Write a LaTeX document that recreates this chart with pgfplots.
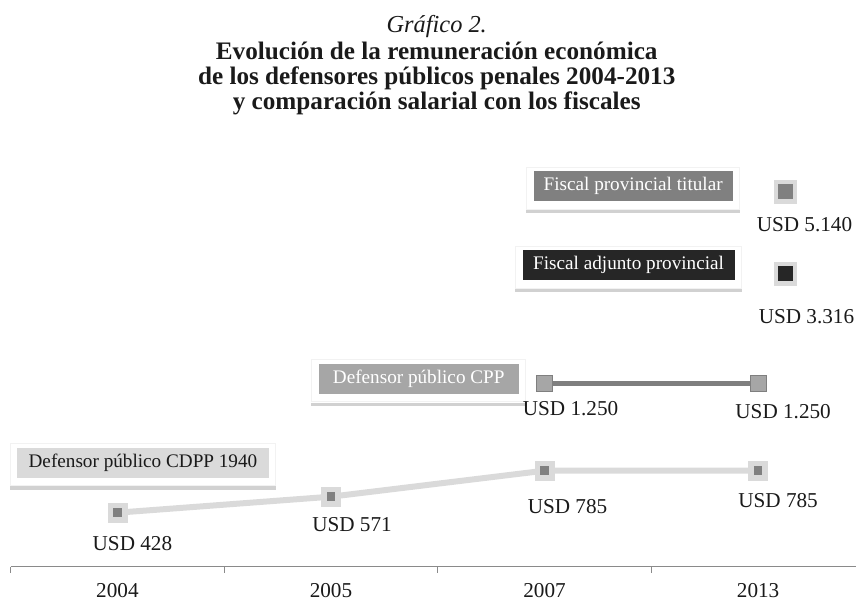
\documentclass[border=0pt]{standalone}
\usepackage{pgfplots}
\usepackage{pgfplotstable}
\pgfplotsset{compat=1.18}
\usepackage{fontspec}
\setmainfont{Liberation Serif}

\definecolor{txt}{HTML}{1A1A1A}
\definecolor{axisgray}{HTML}{8A8A8A}
\definecolor{cdppline}{HTML}{DADADA}
\definecolor{cdppin}{HTML}{808080}
\definecolor{cppfill}{HTML}{A6A6A6}
\definecolor{cppline}{HTML}{7F7F7F}
\definecolor{titular}{HTML}{808080}
\definecolor{adjunto}{HTML}{262626}

% piecewise scale of the original chart (value -> height above the axis)
\newcommand{\ymap}[1]{%
  \begingroup
  \pgfkeys{/pgf/fpu=false}%
  \pgfmathparse{#1<=428 ? #1/428*54 :
    (#1<=571 ? 54+(#1-428)/143*16 :
    (#1<=785 ? 70+(#1-571)/214*26 :
    (#1<=1250 ? 96+(#1-785)/465*87 :
    (#1<=3316 ? 183+(#1-1250)/2066*110 :
    293+(#1-3316)/1824*82))))}%
  \global\let\ymapresult\pgfmathresult
  \endgroup
  \let\pgfmathresult\ymapresult}

\newcommand{\lblfont}{\fontsize{10.6}{12}\selectfont}
\newcommand{\boxfont}{\fontsize{9.6}{11}\selectfont}
\newcommand{\titfont}{\fontsize{12.6}{13}\selectfont}

% label box with white frame and shadow: position, width, fill, text colour, text
\newcommand{\lbox}[5]{%
  \node[fill=white, draw=black!5, line width=0.4pt, inner sep=0pt,
        minimum width=#2+7pt, minimum height=21pt] (F) at ([yshift=-1pt]#1) {};
  \fill[black!18] ([yshift=-0.2pt]F.south west) rectangle ([yshift=-1.8pt]F.south east);
  \node[fill=#3, text=#4, inner sep=0pt, minimum width=#2, minimum height=15pt,
        font=\boxfont] at (#1) {#5};
}

\pgfplotstableread{
x y dx dy lbl
0 428 7.5 15.5 USD~428
1 571 10.5 14 USD~571
2 785 11.5 18 USD~785
3 785 10 15 USD~785
}\tcdpp

\pgfplotstableread{
x y dx dy lbl
2 1250 13 12.5 USD~1.250
3 1250 12.5 14 USD~1.250
}\tcpp

\pgfplotstableread{
x y dx dy lbl
3.128 5140 9.5 16.5 USD~5.140
}\ttitular

\pgfplotstableread{
x y dx dy lbl
3.128 3316 10.5 21.5 USD~3.316
}\tadjunto

\pgfplotsset{
  usdlabels/.style={
    nodes near coords,
    point meta=explicit symbolic,
    visualization depends on={\thisrow{dx}\as\dx},
    visualization depends on={\thisrow{dy}\as\dy},
    every node near coord/.append style={anchor=center, inner sep=0pt,
      font=\lblfont, text=txt, xshift=\dx*1pt, yshift=-\dy*1pt},
  },
}

\begin{document}
\begin{tikzpicture}
\begin{axis}[
  scale only axis,
  width=422.7pt, height=187.5pt,
  xmin=-0.5, xmax=3.456, ymin=0,
  enlargelimits=false,
  clip=false,
  y coord trafo/.code={\ymap{#1}},
  axis x line=bottom, axis y line=none,
  axis line style={draw=axisgray, line width=0.5pt, -},
  xtick={0,1,2,3}, xticklabels={2004,2005,2007,2013},
  minor xtick={-0.5,0.5,1.5,2.5},
  major tick length=0pt, minor tick length=3pt,
  tick align=outside,
  tick style={draw=axisgray, line width=0.5pt},
  xticklabel style={font=\lblfont, text=txt, anchor=base, inner sep=0pt, yshift=-15.5pt},
  ytick=\empty,
]
% Defensor publico CDPP 1940
\addplot[cdppline, line width=3pt, mark=square*, mark size=4.75pt,
  mark options={fill=cdppline, draw=cdppline, line width=0.3pt, rounded corners=1pt}]
  table[x=x, y=y] {\tcdpp};
\addplot[cdppin, only marks, mark=square*, mark size=1.9pt,
  mark options={fill=cdppin, draw=cdppin, line width=0pt}, usdlabels]
  table[x=x, y=y, meta=lbl] {\tcdpp};

% Defensor publico CPP
\addplot[cppline, line width=2.5pt, mark=square*, mark size=4pt,
  mark options={fill=cppfill, draw=cppline, line width=0.6pt}, usdlabels]
  table[x=x, y=y, meta=lbl] {\tcpp};

% Fiscal provincial titular
\addplot[cdppline, only marks, mark=square*, mark size=5.6pt,
  mark options={fill=cdppline, draw=cdppline, line width=0.3pt, rounded corners=1.2pt}]
  table[x=x, y=y] {\ttitular};
\addplot[titular, only marks, mark=square*, mark size=3.5pt,
  mark options={fill=titular, draw=titular, line width=0pt}, usdlabels]
  table[x=x, y=y, meta=lbl] {\ttitular};

% Fiscal adjunto provincial
\addplot[cdppline, only marks, mark=square*, mark size=5.6pt,
  mark options={fill=cdppline, draw=cdppline, line width=0.3pt, rounded corners=1.2pt}]
  table[x=x, y=y] {\tadjunto};
\addplot[adjunto, only marks, mark=square*, mark size=3.5pt,
  mark options={fill=adjunto, draw=adjunto, line width=0pt}, usdlabels]
  table[x=x, y=y, meta=lbl] {\tadjunto};

% label boxes
\lbox{rel axis cs:0.7368,1.0147}{99.5pt}{titular}{white}{Fiscal provincial titular}
\lbox{rel axis cs:0.7314,0.804}{106pt}{adjunto}{white}{Fiscal adjunto provincial}
\lbox{rel axis cs:0.483,0.5013}{100pt}{cppfill}{white}{Defensor público CPP}
\lbox{rel axis cs:0.1566,0.2773}{126pt}{cdppline}{txt}{Defensor público CDPP 1940}

% title
\node[anchor=base, text=txt, inner sep=0pt, font=\fontsize{12.2}{13}\selectfont\itshape]
  at (rel axis cs:0.5043,1.424) {Gráfico 2.};
\node[anchor=base, text=txt, inner sep=0pt, font=\titfont\bfseries]
  at (rel axis cs:0.5043,1.352) {Evolución de la remuneración económica};
\node[anchor=base, text=txt, inner sep=0pt, font=\titfont\bfseries]
  at (rel axis cs:0.5043,1.2853) {de los defensores públicos penales 2004-2013};
\node[anchor=base, text=txt, inner sep=0pt, font=\titfont\bfseries]
  at (rel axis cs:0.5043,1.2187) {y comparación salarial con los fiscales};

% page extent
\path (rel axis cs:-0.0126,-0.0907) rectangle (rel axis cs:1,1.512);
\end{axis}
\end{tikzpicture}
\end{document}
